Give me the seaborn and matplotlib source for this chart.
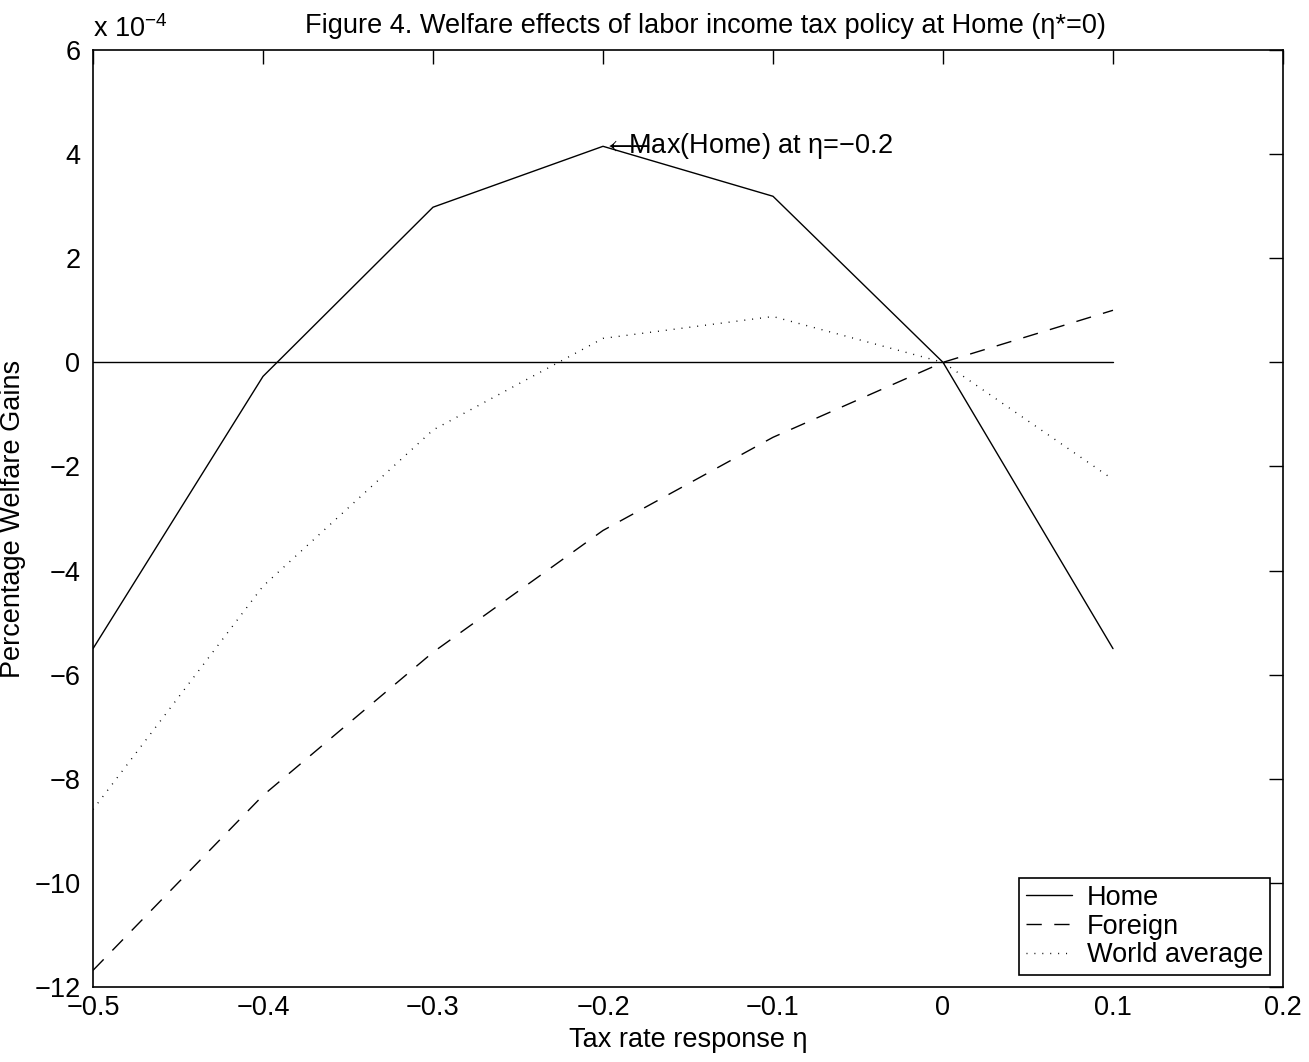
import matplotlib
matplotlib.use("Agg")
import matplotlib.pyplot as plt
import seaborn as sns
import pandas as pd

# Data (welfare gains in units of 1e-4)
eta = [-0.5, -0.4, -0.3, -0.2, -0.1, 0.0, 0.1]
home = [-5.50, -0.27, 2.98, 4.15, 3.19, 0.0, -5.50]
foreign = [-11.68, -8.32, -5.57, -3.23, -1.44, 0.0, 1.00]
world = [-8.59, -4.30, -1.30, 0.46, 0.88, 0.0, -2.25]
zero_x = [-0.5, 0.1]
zero_y = [0.0, 0.0]
series_names = ["Home", "Foreign", "World average"]
xticks = [-0.5, -0.4, -0.3, -0.2, -0.1, 0, 0.1, 0.2]
xtick_labels = ["\u22120.5", "\u22120.4", "\u22120.3", "\u22120.2", "\u22120.1", "0", "0.1", "0.2"]
yticks = [-12, -10, -8, -6, -4, -2, 0, 2, 4, 6]
ytick_labels = ["\u221212", "\u221210", "\u22128", "\u22126", "\u22124", "\u22122", "0", "2", "4", "6"]

sns.set_theme(style="white")
plt.rcParams['font.family'] = ['Liberation Sans', 'DejaVu Sans']
plt.rcParams['mathtext.fontset'] = 'custom'
plt.rcParams['mathtext.rm'] = 'Liberation Sans'
plt.rcParams['mathtext.it'] = 'Liberation Sans'
plt.rcParams['text.color'] = 'black'
plt.rcParams['axes.labelcolor'] = 'black'

FS = 19.5
fig = plt.figure(figsize=(13.09, 10.62), dpi=100)
ax = fig.add_axes([93/1309, 1 - 987/1062, (1283-93)/1309, (987-50)/1062])

df = pd.DataFrame({"eta": eta * 3,
                   "val": home + foreign + world,
                   "series": [series_names[0]]*len(eta) + [series_names[1]]*len(eta) + [series_names[2]]*len(eta)})

styles = {"Home": "-", "Foreign": (0, (11, 9)), "World average": (0, (0.7, 5))}
for name in series_names:
    sub = df[df["series"] == name]
    sns.lineplot(data=sub, x="eta", y="val", ax=ax, color="black", lw=1.0,
                 linestyle=styles[name], label=name, estimator=None, sort=False)

sns.lineplot(x=zero_x, y=zero_y, ax=ax, color="black", lw=1.0, legend=False)

ax.set_xlim(-0.5, 0.2)
ax.set_ylim(-12, 6)
ax.set_xticks(xticks)
ax.set_xticklabels(xtick_labels)
ax.set_yticks(yticks)
ax.set_yticklabels(ytick_labels)
ax.tick_params(direction="in", length=10, width=1, top=True, right=True,
               labelsize=FS, colors="black", pad=9)
ax.tick_params(axis="x", pad=6)
for s in ax.spines.values():
    s.set_visible(True)
    s.set_color("black")
    s.set_linewidth(1.2)

ax.set_xlabel("Tax rate response \u03b7", fontsize=FS, color="black", labelpad=4)
ax.set_ylabel("Percentage Welfare Gains", fontsize=FS, color="black", labelpad=6)
ax.set_title("Figure 4. Welfare effects of labor income tax policy at Home (\u03b7*=0)",
             fontsize=FS, color="black", pad=12, x=0.515)
ax.text(0.0, 1.008, "x 10$^{-4}$", transform=ax.transAxes, fontsize=FS,
        ha="left", va="bottom", color="black")

ax.text(eta[3], home[3], "$\\longleftarrow\\!\\!\\!\\!\\!\\!\\!$Max(Home) at \u03b7=\u22120.2", fontsize=FS,
        ha="left", va="center", color="black")

leg = ax.legend(loc="lower right", bbox_to_anchor=(0.989, 0.0128), fontsize=FS,
                frameon=True, fancybox=False, framealpha=1, edgecolor="black",
                handlelength=1.7, labelspacing=0.1, borderpad=0.25, handletextpad=0.55,
                borderaxespad=0)
leg.get_frame().set_linewidth(1.2)
for t in leg.get_texts():
    t.set_color("black")

fig.savefig("out.png", dpi=100, facecolor="white")
